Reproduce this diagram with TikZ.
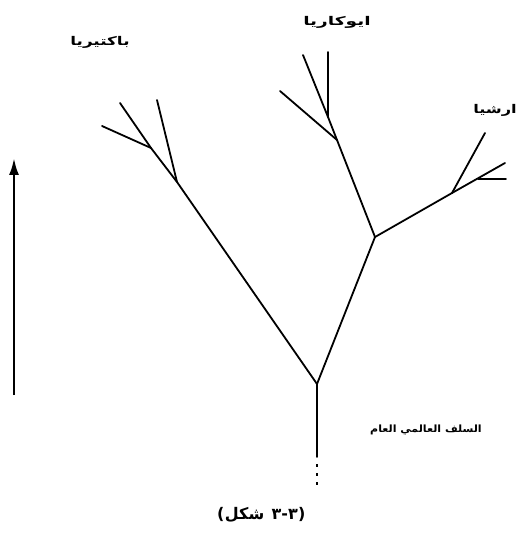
\documentclass[tikz,border=0pt]{standalone}
\usepackage{fontspec}
\usepackage{graphicx}
\usetikzlibrary{arrows.meta}
\TeXXeTstate=1
\newfontfamily\arabicfont[Script=Arabic,BoldFont={DejaVu Sans Bold}]{DejaVu Sans}
\newfontfamily\plainfont[BoldFont={DejaVu Sans Bold}]{DejaVu Sans}
\begin{document}
\begin{tikzpicture}[x=1pt,y=-1pt,
  branch/.style={line width=1.8pt, line cap=round},
  lbl/.style={font=\arabicfont\bfseries\fontsize{12}{14}\selectfont, inner sep=0pt},
  smalllbl/.style={font=\arabicfont\bfseries\fontsize{10}{12}\selectfont, inner sep=0pt},
  capar/.style={font=\arabicfont\bfseries\fontsize{16}{18}\selectfont, inner sep=0pt, anchor=base west},
  caplat/.style={font=\plainfont\bfseries\fontsize{16}{18}\selectfont, inner sep=0pt, anchor=base west}]
\useasboundingbox (0,0) rectangle (521,534);
% junctions and tips
\coordinate (root) at (317,384);
\coordinate (stemend) at (317,457);
\coordinate (dotstart) at (317,464);
\coordinate (dotend) at (317,486);
% bacteria
\coordinate (bj) at (177,182);
\coordinate (bt1) at (157,100);
\coordinate (bj2) at (151,148);
\coordinate (bt2) at (120,103);
\coordinate (bt3) at (102,126);
% eukarya
\coordinate (ej) at (375,237);
\coordinate (ej2) at (337,140);
\coordinate (ej3) at (328,117);
\coordinate (et1) at (303,55);
\coordinate (et2) at (328,52);
\coordinate (et3) at (280,91);
% archaea
\coordinate (aj) at (452,193);
\coordinate (at1) at (485,133);
\coordinate (at2) at (505,163);
\coordinate (ah1) at (478,179);
\coordinate (ah2) at (506,179);
% arrow
\coordinate (arrbot) at (14,395);
\coordinate (arrtop) at (14,158);

\draw[branch] (stemend) -- (root) -- (bj) -- (bj2) -- (bt2);
\draw[branch] (bj) -- (bt1);
\draw[branch] (bj2) -- (bt3);
\draw[branch] (root) -- (ej) -- (ej2) -- (ej3) -- (et1);
\draw[branch] (ej3) -- (et2);
\draw[branch] (ej2) -- (et3);
\draw[branch] (ej) -- (aj) -- (at1);
\draw[branch] (aj) -- (at2);
\draw[branch] (ah1) -- (ah2);
\draw[line width=1.8pt, dash pattern=on 2.5pt off 6.5pt] (dotstart) -- (dotend);
\draw[line width=2.6pt, -{Latex[length=17pt,width=10pt]}] (arrbot) -- (arrtop);

\node[lbl] (bac) at (100,42) {\scalebox{1.4}[1]{\beginR باكتيريا\endR}};
\node[lbl] (euk) at (337,22) {\scalebox{1.55}[1]{\beginR ايوكاريا\endR}};
\node[lbl, anchor=east] (arc) at (517,110) {\scalebox{1.35}[1]{\beginR ارشيا\endR}};
\node[smalllbl] (luca) at (426,430) {\scalebox{1.1}[1]{\beginR السلف العالمي العام\endR}};
% caption, laid out left to right as printed
\node[caplat] (capl) at (217,519) {(};
\node[capar] (capw) at (capl.base east) {\beginR شكل\endR};
\node[caplat, xshift=7pt] (capn) at (capw.base east) {٣-٣};
\node[caplat] (capr) at (capn.base east) {)};
\end{tikzpicture}
\end{document}
